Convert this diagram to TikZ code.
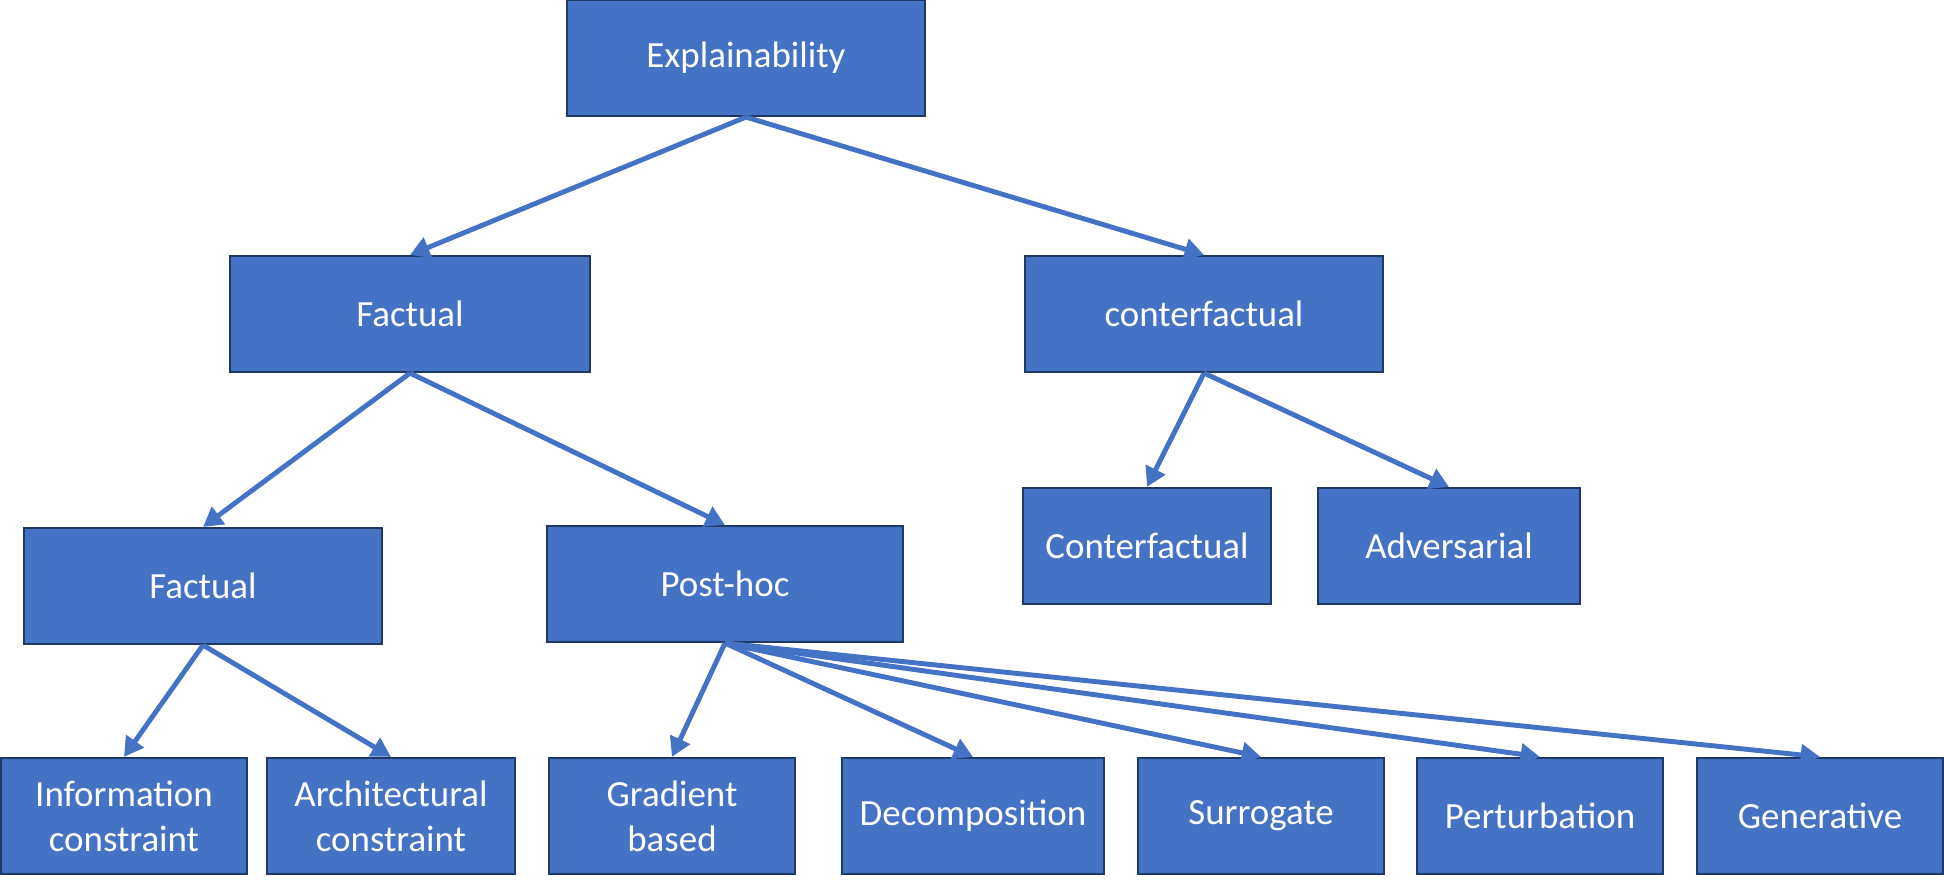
\documentclass[tikz,border=0pt]{standalone}
\usepackage{fontspec}
\setmainfont{Carlito}
\usepackage{xcolor}
\usetikzlibrary{positioning, arrows.meta}
\definecolor{boxblue}{HTML}{4472C4}
\definecolor{boxedge}{HTML}{1F3864}

\begin{document}
\begin{tikzpicture}[x=0.01cm, y=-0.01cm,
        catbox/.style={draw=boxedge, line width=0.6pt, fill=boxblue, text=white,
            font=\fontsize{10.5}{12.8}\selectfont, align=center, inner sep=0pt,
            minimum height=1.16cm},
        link/.style={draw=boxblue, line width=1.4pt, -{Triangle[length=5.5pt,width=6pt]}}]

            \useasboundingbox (0,0) rectangle (1944,885);

            % Root
            \node[catbox, minimum width=3.58cm] (expl) at (746,58) {Explainability};

            % Second level
            \node[catbox, minimum width=3.59cm] (fact) at (410,314) {Factual};
            \node[catbox, minimum width=3.58cm] (cntr) at (1204,314) {conterfactual};

            % Third level
            \node[catbox, minimum width=3.58cm] (intr) at (203,586) {Factual};
            \node[catbox, minimum width=3.56cm] (post) at (725,584) {Post-hoc};
            \node[catbox, minimum width=2.47cm] (cfex) at (1147,546) {Conterfactual};
            \node[catbox, minimum width=2.62cm] (advr) at (1449,546) {Adversarial};

            % Bottom row
            \node[catbox, minimum width=2.46cm] (info) at (124,816) {Information\\constraint};
            \node[catbox, minimum width=2.47cm] (arch) at (391,816) {Architectural\\constraint};
            \node[catbox, minimum width=2.46cm] (grad) at (672,816) {Gradient\\based};
            \node[catbox, minimum width=2.61cm] (deco) at (973,816) {Decomposition};
            \node[catbox, minimum width=2.46cm] (surr) at (1261,816) {Surrogate};
            \node[catbox, minimum width=2.46cm] (pert) at (1540,816) {Perturbation};
            \node[catbox, minimum width=2.46cm] (gene) at (1820,816) {Generative};

            % Connectors
            \draw[link] (expl.south) -- (fact.north);
            \draw[link] (expl.south) -- (cntr.north);
            \draw[link] (fact.south) -- (intr.north);
            \draw[link] (fact.south) -- (post.north);
            \draw[link] (cntr.south) -- (cfex.north);
            \draw[link] (cntr.south) -- (advr.north);
            \draw[link] (intr.south) -- (info.north);
            \draw[link] (intr.south) -- (arch.north);
            \foreach \leaf in {grad, deco, surr, pert, gene}
                \draw[link] (post.south) -- (\leaf.north);

\end{tikzpicture}
\end{document}
